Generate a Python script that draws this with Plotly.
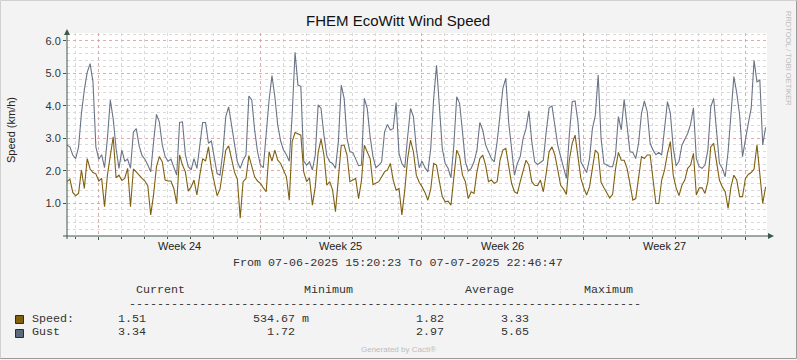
import pandas as pd
import plotly.graph_objects as go

# ---------------- data (3-hourly samples) ----------------
start_time = "2025-06-07 15:20:23"
end_time = "2025-07-07 22:46:47"

gust = [
    2.79, 2.74, 2.49, 2.38, 2.73, 3.77, 4.49, 5.03, 5.3, 4.74, 2.74, 2.36, 2.5, 2.1, 3.0, 4.18, 3.6, 2.69, 2.08, 2.64,
    2.3, 2.36, 2.08, 3.2, 3.3, 2.77, 2.47, 2.36, 2.18, 1.97, 2.9, 3.74, 3.5, 2.8, 2.44, 2.3, 2.36, 2.1, 1.87, 3.49, 3.51,
    2.5, 2.13, 2.03, 2.38, 2.08, 2.74, 3.49, 3.49, 2.85, 2.92, 2.38, 1.92, 1.87, 2.59, 3.67, 3.97, 3.41, 2.9, 2.28, 2.08,
    2.33, 2.49, 4.3, 4.18, 3.26, 2.59, 2.18, 2.1, 3.15, 4.18, 4.93, 4.28, 3.41, 2.92, 2.64, 2.5, 2.3, 3.72, 5.65, 4.64, 4.6,
    2.3, 2.18, 2.28, 2.03, 2.49, 4.03, 3.92, 3.1, 2.47, 2.28, 2.23, 2.08, 2.9, 4.64, 4.23, 3.0, 2.59, 2.57, 2.38, 2.16,
    2.18, 4.23, 3.92, 3.05, 2.44, 2.1, 2.18, 2.28, 3.2, 3.43, 3.26, 3.3, 4.1, 2.54, 2.23, 2.1, 3.05, 3.92, 3.67, 2.69, 2.1,
    2.3, 2.1, 1.97, 2.69, 4.21, 5.25, 3.9, 2.69, 2.23, 2.08, 1.79, 2.79, 4.28, 4.08, 3.2, 2.28, 2.0, 2.08, 2.28, 2.64,
    3.49, 3.26, 2.8, 2.59, 2.38, 2.28, 2.9, 3.72, 4.54, 4.85, 3.49, 2.69, 1.87, 2.23, 2.44, 3.0, 3.3, 3.85, 2.9, 2.28, 2.2,
    2.26, 2.33, 3.2, 3.94, 4.0, 3.36, 2.79, 2.44, 2.13, 1.77, 3.1, 4.13, 4.15, 3.51, 2.28, 2.1, 1.95, 2.38, 3.3, 3.7,
    4.95, 3.0, 2.23, 2.18, 2.13, 2.13, 2.49, 3.67, 3.26, 4.2, 3.3, 2.59, 2.57, 2.38, 2.85, 3.77, 4.15, 3.82, 2.85, 2.64, 2.5,
    2.57, 2.49, 3.26, 4.13, 3.77, 2.71, 2.16, 2.3, 2.79, 2.95, 3.15, 3.43, 3.94, 2.38, 2.13, 2.08, 2.18, 2.64, 3.97, 4.23,
    3.3, 2.23, 2.08, 1.82, 2.59, 3.67, 4.9, 4.4, 3.72, 2.44, 3.0, 3.46, 3.92, 5.4, 4.74, 4.79, 2.8, 3.34,
]

speed = [
    1.67, 1.75, 1.34, 1.24, 1.31, 2.03, 1.46, 2.38, 2.06, 1.95, 1.91, 1.69, 1.77, 0.9, 1.87, 2.44, 3.05, 1.79, 1.87, 1.71,
    1.77, 2.08, 0.9, 2.06, 1.95, 1.87, 1.77, 1.69, 1.54, 0.65, 1.28, 2.13, 2.44, 2.28, 1.72, 1.69, 1.69, 1.46, 1.0, 2.49, 2.18,
    1.97, 1.38, 1.51, 1.72, 1.26, 1.87, 2.38, 2.3, 2.74, 2.08, 1.67, 1.24, 1.44, 2.08, 2.64, 2.77, 2.36, 1.97, 1.75, 0.55,
    1.67, 1.77, 2.47, 2.18, 1.82, 1.69, 1.62, 1.48, 1.36, 2.59, 2.3, 2.64, 2.33, 2.23, 2.0, 1.82, 1.1, 2.9, 3.18, 3.15, 3.1,
    1.97, 1.67, 1.79, 0.95, 1.51, 2.57, 2.98, 2.49, 1.56, 1.67, 1.41, 0.75, 1.77, 2.79, 2.79, 2.49, 1.67, 1.72, 1.77, 1.15,
    1.7, 2.79, 2.59, 2.38, 1.58, 1.62, 1.67, 1.82, 1.97, 2.03, 2.23, 1.72, 1.41, 1.46, 0.65, 1.41, 2.38, 2.95, 2.59, 1.87, 1.65,
    1.51, 1.34, 1.1, 1.44, 2.23, 2.18, 1.67, 1.21, 1.05, 1.07, 0.95, 1.87, 2.64, 2.44, 1.87, 1.67, 1.15, 1.36, 1.31, 1.97,
    2.38, 2.49, 2.18, 1.67, 1.72, 1.62, 1.67, 2.33, 2.64, 2.69, 2.08, 1.62, 1.36, 1.31, 1.67, 2.03, 2.33, 2.18, 1.67, 1.56, 1.55,
    1.72, 1.36, 1.92, 2.59, 2.74, 2.49, 2.03, 1.56, 1.44, 1.28, 2.33, 2.85, 3.1, 2.49, 1.77, 1.48, 1.26, 1.51, 2.03, 2.64,
    2.54, 1.65, 1.48, 1.31, 1.17, 1.28, 2.06, 2.57, 2.33, 2.33, 2.08, 1.62, 1.1, 1.15, 1.82, 2.44, 2.38, 2.49, 2.49, 1.67, 1.0,
    1.0, 1.72, 2.03, 2.54, 2.9, 1.87, 1.48, 1.24, 1.56, 1.72, 2.08, 2.18, 2.54, 1.26, 1.48, 1.48, 1.31, 1.67, 2.74, 2.85,
    2.28, 1.72, 1.51, 1.36, 0.85, 1.51, 1.87, 1.72, 1.21, 1.21, 1.77, 1.89, 1.95, 2.06, 2.8, 2.0, 1.0, 1.51,
]

times = pd.date_range(start_time, periods=len(gust), freq="3h")

week_starts = ["2025-06-09", "2025-06-16", "2025-06-23", "2025-06-30", "2025-07-07"]
week_label_pos = ["2025-06-12 12:00", "2025-06-19 12:00", "2025-06-26 12:00", "2025-07-03 12:00"]
week_labels = ["Week 24", "Week 25", "Week 26", "Week 27"]
y_ticks = [1, 2, 3, 4, 5, 6]
y_ticktext = ["1.0", "2.0", "3.0", "4.0", "5.0", "6.0"]

legend_names = ["Speed:", "Gust"]
stat_headers = ["Current", "Minimum", "Average", "Maximum"]
stat_speed = ["1.51", "534.67 m", "1.82", "3.33"]
stat_gust = ["3.34", "1.72", "2.97", "5.65"]

SPEED_COL = "#7F6010"
GUST_COL = "#6A7487"
AXIS_COL = "#3A5A4C"

# ---------------- layout helpers (pixel -> paper) ----------------
W, H = 797, 360
L, R, T, B = 67, 30, 33, 124
PW, PH = W - L - R, H - T - B


def px(x):
    return (x - L) / PW


def py(y):
    return (H - B - y) / PH


fig = go.Figure()
fig.add_trace(go.Scatter(x=times, y=gust, mode="lines", name="Gust",
                         line=dict(color=GUST_COL, width=1.1), hoverinfo="skip"))
fig.add_trace(go.Scatter(x=times, y=speed, mode="lines", name="Speed",
                         line=dict(color=SPEED_COL, width=1.1), hoverinfo="skip"))

MONO = "Liberation Mono"
SANS = "Liberation Sans"

annotations = []


def text(x, y, s, size=11.7, font=MONO, color="#333333", xanchor="left", yanchor="middle", angle=0, **kw):
    annotations.append(dict(x=px(x), y=py(y), xref="paper", yref="paper", text=s, showarrow=False,
                            xanchor=xanchor, yanchor=yanchor, textangle=angle,
                            font=dict(family=font, size=size, color=color), borderpad=0, **kw))


# week labels (data x, paper y)
for pos, lab in zip(week_label_pos, week_labels):
    annotations.append(dict(x=pos, y=py(246), xref="x", yref="paper", text=lab, showarrow=False,
                            xanchor="center", yanchor="middle",
                            font=dict(family=SANS, size=11, color="#222222")))

text(11, 130, "Speed (km/h)", size=11, font=SANS, color="#222222", xanchor="center", angle=-90)
text(788, 58, "RRDTOOL / TOBI OETIKER", size=7.5, font=SANS, color="#BDBDBD", xanchor="center", angle=90)
text(398, 263, "From 07-06-2025 15:20:23 To 07-07-2025 22:46:47", xanchor="center")

hdr_x = [135, 303, 464, 583]
for xx, s in zip(hdr_x, stat_headers):
    text(xx, 290, s)
text(128, 303.5, "-" * 73)

text(30.5, 319, legend_names[0])
text(30.5, 332, legend_names[1])
sp_x = [116.5, 251.5, 415, 500]
gu_x = [116.5, 265.5, 415, 500]
for xx, s in zip(sp_x, stat_speed):
    text(xx, 319, s)
for xx, s in zip(gu_x, stat_gust):
    text(xx, 332, s)
text(398, 349, "Generated by Cacti®", size=8, font=SANS, color="#BDBDBD", xanchor="center")

shapes = []
# legend colour boxes
shapes.append(dict(type="rect", xref="paper", yref="paper", x0=px(15.5), x1=px(23.5), y0=py(323.5), y1=py(315.5),
                   fillcolor=SPEED_COL, line=dict(color="#2b2b2b", width=1)))
shapes.append(dict(type="rect", xref="paper", yref="paper", x0=px(15.5), x1=px(23.5), y0=py(337.5), y1=py(329.5),
                   fillcolor="#5C6A7C", line=dict(color="#2b2b2b", width=1)))
# axes with arrows
shapes.append(dict(type="line", xref="paper", yref="paper", x0=px(67), x1=px(67), y0=py(239), y1=py(31),
                   line=dict(color=AXIS_COL, width=1)))
shapes.append(dict(type="line", xref="paper", yref="paper", x0=px(63), x1=px(770), y0=py(236), y1=py(236),
                   line=dict(color=AXIS_COL, width=1)))
shapes.append(dict(type="path", xref="paper", yref="paper",
                   path=f"M {px(64)},{py(35)} L {px(70)},{py(35)} L {px(67)},{py(29)} Z",
                   fillcolor=AXIS_COL, line=dict(color=AXIS_COL, width=0)))
shapes.append(dict(type="path", xref="paper", yref="paper",
                   path=f"M {px(768)},{py(233)} L {px(768)},{py(239)} L {px(774)},{py(236)} Z",
                   fillcolor=AXIS_COL, line=dict(color=AXIS_COL, width=0)))
# image border
shapes.append(dict(type="path", xref="paper", yref="paper",
                   path=f"M {px(0.5)},{py(359)} L {px(0.5)},{py(0.5)} L {px(796.5)},{py(0.5)}",
                   line=dict(color="#D0D0D0", width=1)))
shapes.append(dict(type="path", xref="paper", yref="paper",
                   path=f"M {px(796.5)},{py(0.5)} L {px(796.5)},{py(358.5)} L {px(0.5)},{py(358.5)}",
                   line=dict(color="#9A9A9A", width=1)))

MAJOR_GRID = "rgba(232,140,140,0.6)"
MINOR_GRID = "#DADADA"

fig.update_layout(
    width=W, height=H,
    margin=dict(l=L, r=R, t=T, b=B, pad=0),
    paper_bgcolor="#F3F3F3",
    plot_bgcolor="#FFFFFF",
    showlegend=False,
    title=dict(text="FHEM EcoWitt Wind Speed", x=0.4995, xanchor="center", y=1 - 21 / H, yanchor="middle",
               font=dict(family=SANS, size=15, color="#111111")),
    annotations=annotations,
    shapes=shapes,
    xaxis=dict(
        type="date", range=[start_time, end_time],
        tickmode="array", tickvals=week_starts, ticktext=[""] * len(week_starts),
        showgrid=True, gridcolor=MAJOR_GRID, griddash="dot", gridwidth=1,
        ticks="outside", ticklen=3, tickcolor=AXIS_COL,
        minor=dict(tickmode="linear", tick0="2025-06-08", dtick=86400000, showgrid=True,
                   gridcolor=MINOR_GRID, griddash="dot", gridwidth=1, ticks="outside", ticklen=2,
                   tickcolor=AXIS_COL),
        showline=False, zeroline=False, fixedrange=True,
    ),
    yaxis=dict(
        range=[0, 6.24], tickmode="array", tickvals=y_ticks, ticktext=y_ticktext,
        showgrid=True, gridcolor=MAJOR_GRID, griddash="dot", gridwidth=1,
        ticks="outside", ticklen=3, tickcolor=AXIS_COL,
        tickfont=dict(family=SANS, size=11, color="#333333"),
        minor=dict(tickmode="linear", tick0=0, dtick=0.2, showgrid=True,
                   gridcolor=MINOR_GRID, griddash="dot", gridwidth=1),
        showline=False, zeroline=False, fixedrange=True,
    ),
)

fig.write_html("out.html", config={"displayModeBar": False},
               post_script="document.body.style.margin='0';document.body.style.background='#F3F3F3';")
